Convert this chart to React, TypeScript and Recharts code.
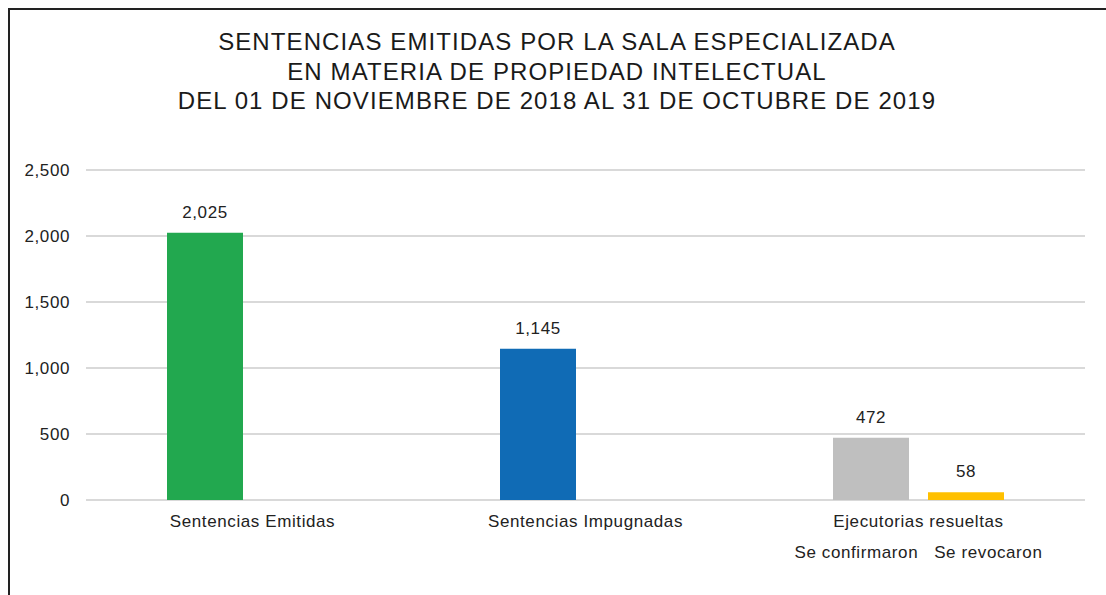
import { Bar, BarChart, CartesianGrid, Cell, LabelList, XAxis, YAxis } from "recharts";

const categories = ["Sentencias Emitidas", "Sentencias Impugnadas", "Ejecutorias resueltas"];
const subLabels = ["", "", "Se confirmaron\u00A0\u00A0\u00A0Se revocaron"];
const mainValues = [2025, 1145, 472];
const revokedValues: (number | null)[] = [null, null, 58];
const mainColors = ["#22A84F", "#106BB5", "#BFBFBF"];
const revokedColor = "#FFC000";
const yTicks = [0, 500, 1000, 1500, 2000, 2500];
const titleLines = [
  "SENTENCIAS EMITIDAS POR LA SALA ESPECIALIZADA",
  "EN MATERIA DE PROPIEDAD INTELECTUAL",
  "DEL 01 DE NOVIEMBRE DE 2018 AL 31 DE OCTUBRE DE 2019",
];

const FONT = "'Liberation Sans', Arial, sans-serif";
const TEXT = "#222";
const fmt = new Intl.NumberFormat("en-US");

const data = categories.map((name, i) => ({
  name,
  sub: subLabels[i],
  main: mainValues[i],
  revoked: revokedValues[i],
}));

const textStyle = { fill: TEXT, fontSize: 17, fontFamily: FONT, letterSpacing: 0.6 };

function CategoryTick(props: any) {
  const { x, y, payload, index } = props;
  const sub = subLabels[index] ?? "";
  return (
    <g transform={`translate(${x},${y})`}>
      <text textAnchor="middle" dy={10} style={textStyle}>
        {payload.value}
      </text>
      {sub && (
        <text textAnchor="middle" dy={41} style={textStyle}>
          {sub}
        </text>
      )}
    </g>
  );
}

export default function App() {
  return (
    <div style={{ position: "relative", width: 1106, height: 595, overflow: "hidden", background: "#fff" }}>
      <style>{"body{margin:0}"}</style>
      <div
        style={{
          position: "absolute",
          left: 8,
          top: 8,
          width: 1098,
          height: 600,
          borderLeft: "2px solid #222",
          borderTop: "2px solid #222",
          boxSizing: "border-box",
        }}
      />
      <div
        style={{
          position: "absolute",
          left: 8,
          top: 27,
          width: 1098,
          textAlign: "center",
          fontFamily: FONT,
          fontSize: 24,
          letterSpacing: 1.1,
          lineHeight: "29.5px",
          color: "#1a1a1a",
        }}
      >
        {titleLines.map((t) => (
          <div key={t}>{t}</div>
        ))}
      </div>
      <div style={{ position: "absolute", left: 0, top: 0 }}>
        <BarChart
          width={1106}
          height={595}
          data={data}
          margin={{ top: 170, right: 21, bottom: 45, left: 8 }}
          barSize={76}
          barGap={19}
        >
          <CartesianGrid horizontal vertical={false} stroke="#D9D9D9" strokeWidth={2} />
          <XAxis
            dataKey="name"
            axisLine={false}
            tickLine={false}
            tickMargin={11}
            height={50}
            interval={0}
            tick={<CategoryTick />}
          />
          <YAxis
            domain={[0, 2500]}
            ticks={yTicks}
            width={78}
            axisLine={false}
            tickLine={false}
            tickMargin={10}
            tickFormatter={(v: number) => fmt.format(v)}
            tick={textStyle}
          />
          <Bar dataKey="main" isAnimationActive={false}>
            {data.map((d, i) => (
              <Cell key={d.name} fill={mainColors[i]} />
            ))}
            <LabelList
              dataKey="main"
              position="top"
              offset={15}
              formatter={(v: any) => fmt.format(v)}
              style={textStyle}
            />
          </Bar>
          <Bar dataKey="revoked" fill={revokedColor} isAnimationActive={false}>
            <LabelList
              dataKey="revoked"
              position="top"
              offset={15}
              formatter={(v: any) => (v == null ? "" : fmt.format(v))}
              style={textStyle}
            />
          </Bar>
        </BarChart>
      </div>
    </div>
  );
}
